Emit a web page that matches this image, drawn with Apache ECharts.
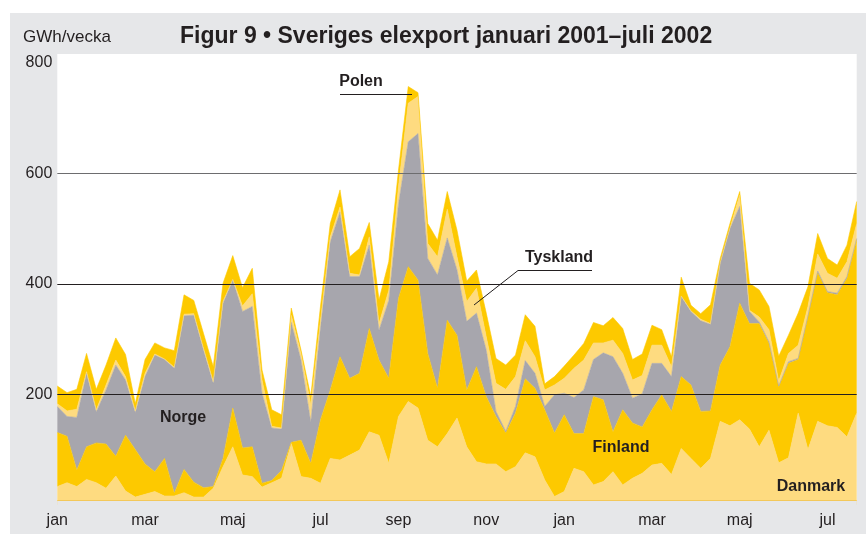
<!DOCTYPE html>
<html>
<head>
<meta charset="utf-8">
<script src="https://cdn.jsdelivr.net/npm/echarts@6/dist/echarts.min.js"></script>
<style>
  html, body { margin: 0; padding: 0; background: #fff; }
  #chart { width: 866px; height: 534px; }
</style>
</head>
<body>
<div id="chart"></div>
<script>
// veckor jan 2001 - v31 2002
const years = [2001, 2002]
const weeksPerYear = [52, 31]
const weeks = []
years.forEach((y, k) => {
  for (let w = 1; w <= weeksPerYear[k]; w++) weeks.push(y + ' v' + w)
})

const monthTickIndex = [0, 9, 18, 27, 35, 44, 52, 61, 70, 79]
const monthTickText = ['jan', 'mar', 'maj', 'jul', 'sep', 'nov', 'jan', 'mar', 'maj', 'jul']

// GWh/vecka
const danmark = [33, 40, 33, 46, 40, 30, 52, 25, 14, 19, 24, 16, 16, 22, 14, 14, 30, 69, 105, 54,
  51, 32, 40, 48, 111, 51, 48, 39, 84, 81, 90, 99, 132, 126, 75, 160, 187, 175, 117, 105,
  129, 157, 105, 78, 74, 74, 60, 69, 94, 87, 45, 15, 24, 66, 60, 36, 42, 60, 36, 48,
  57, 72, 75, 55, 102, 84, 66, 84, 151, 143, 154, 137, 105, 135, 76, 85, 166, 100, 151, 143,
  140, 123, 166]
const finland = [98, 84, 30, 59, 72, 80, 36, 101, 86, 55, 36, 68, 5, 42, 27, 17, 3, 15, 70, 49,
  54, 7, 4, 14, 2, 66, 27, 115, 124, 187, 139, 139, 187, 136, 154, 214, 244, 232, 157, 106,
  205, 150, 103, 172, 122, 86, 70, 97, 134, 124, 127, 115, 139, 63, 69, 160, 148, 72, 136, 100,
  84, 100, 124, 114, 130, 133, 103, 86, 102, 143, 211, 191, 223, 157, 137, 171, 97, 240, 269, 241,
  240, 287, 314]
const norge = [47, 36, 95, 133, 56, 98, 165, 100, 67, 158, 211, 179, 226, 278, 302, 249, 187, 281, 232, 247,
  254, 163, 95, 75, 217, 145, 75, 168, 268, 262, 184, 175, 151, 54, 141, 171, 226, 265, 172, 205,
  149, 118, 124, 97, 84, 9, 3, 12, 33, 27, 6, 69, 39, 65, 79, 67, 85, 136, 66, 45,
  60, 84, 57, 63, 145, 133, 164, 157, 184, 214, 175, 22, 3, 3, 2, 3, 2, 2, 3, 2,
  3, 3, 2]
const tyskland = [5, 10, 15, 3, 4, 9, 9, 6, 3, 6, 2, 1, 2, 3, 3, 3, 3, 3, 1, 10,
  23, 24, 3, 2, 13, 12, 31, 12, 9, 9, 6, 3, 15, 12, 18, 31, 70, 67, 27, 33,
  52, 24, 36, 45, 24, 51, 76, 54, 36, 30, 30, 18, 27, 53, 54, 30, 18, 30, 36, 33,
  33, 33, 33, 18, 1, 1, 3, 1, 1, 1, 21, 2, 9, 22, 9, 15, 24, 17, 31, 33,
  27, 27, 27]
const polen = [32, 33, 36, 33, 37, 36, 40, 40, 13, 25, 20, 20, 30, 35, 24, 27, 27, 33, 43, 33,
  46, 18, 30, 24, 13, 6, 15, 26, 24, 31, 30, 48, 26, 43, 52, 30, 30, 7, 36, 30,
  32, 48, 37, 33, 43, 45, 44, 39, 47, 55, 11, 15, 22, 24, 30, 37, 31, 41, 45, 37,
  39, 36, 28, 18, 34, 10, 10, 34, 8, 8, 6, 49, 49, 42, 45, 33, 58, 36, 37, 27,
  24, 30, 40]

const gridLines = [200, 400, 600]

const LIGHT = '#fedb80'
const YELLOW = '#fdc900'
const GREY = '#a7a6ad'
const BG = '#e6e7e9'
const INK = '#231f20'
const FONT = 'Liberation Sans'

function layer(name, data, color, extra) {
  return Object.assign({
    name: name,
    type: 'line',
    stack: 'export',
    data: data,
    symbol: 'none',
    silent: true,
    lineStyle: { width: 0.6, color: color },
    areaStyle: { color: color, opacity: 1 }
  }, extra || {})
}

const chart = echarts.init(document.getElementById('chart'))
chart.setOption({
  backgroundColor: BG,
  animation: false,
  grid: { left: 57.3, right: 9.3, top: 62.8, bottom: 29.2 },
  xAxis: {
    type: 'category',
    data: weeks,
    boundaryGap: false,
    axisLine: { show: false },
    axisTick: { show: false },
    splitLine: { show: false },
    axisLabel: {
      interval: (i) => monthTickIndex.includes(i),
      formatter: (v, i) => monthTickText[monthTickIndex.indexOf(i)],
      color: INK,
      fontFamily: FONT,
      fontSize: 16,
      margin: 8
    }
  },
  yAxis: {
    type: 'value',
    min: 0,
    max: 800,
    interval: 200,
    axisLine: { show: false },
    axisTick: { show: false },
    splitLine: { show: false },
    axisLabel: {
      showMinLabel: false,
      color: INK,
      fontFamily: FONT,
      fontSize: 16,
      margin: 5
    }
  },
  graphic: [
    // vita kanter och plotyta
    { type: 'rect', z: -1, shape: { x: 0, y: 0, width: 866, height: 13 }, style: { fill: '#fff' } },
    { type: 'rect', z: -1, shape: { x: 0, y: 0, width: 10, height: 534 }, style: { fill: '#fff' } },
    { type: 'rect', z: -1, shape: { x: 57.3, y: 54, width: 799.4, height: 447 }, style: { fill: '#fff' } },
    { type: 'rect', z: 10, shape: { x: 57.3, y: 501, width: 799.4, height: 4 }, style: { fill: BG } },
    { type: 'line', z: 10, shape: { x1: 57.3, y1: 500.5, x2: 856.7, y2: 500.5 }, style: { stroke: '#f3c85a', lineWidth: 1 } },
    { type: 'text', z: 20, style: { text: 'GWh/vecka', x: 23, y: 37, font: '17px ' + FONT, fill: INK, align: 'left', verticalAlign: 'middle' } },
    { type: 'text', z: 20, style: { text: 'Figur 9 • Sveriges elexport januari 2001–juli 2002', x: 180, y: 37, font: 'bold 23px ' + FONT, fill: INK, align: 'left', verticalAlign: 'middle' } },
    { type: 'text', z: 20, style: { text: 'Norge', x: 183, y: 418, font: 'bold 16px ' + FONT, fill: INK, align: 'center', verticalAlign: 'middle' } },
    { type: 'text', z: 20, style: { text: 'Finland', x: 621, y: 448, font: 'bold 16px ' + FONT, fill: INK, align: 'center', verticalAlign: 'middle' } },
    { type: 'text', z: 20, style: { text: 'Danmark', x: 811, y: 487, font: 'bold 16px ' + FONT, fill: INK, align: 'center', verticalAlign: 'middle' } },
    { type: 'text', z: 20, style: { text: 'Polen', x: 361, y: 82, font: 'bold 16px ' + FONT, fill: INK, align: 'center', verticalAlign: 'middle' } },
    { type: 'text', z: 20, style: { text: 'Tyskland', x: 559, y: 258, font: 'bold 16px ' + FONT, fill: INK, align: 'center', verticalAlign: 'middle' } },
    { type: 'polyline', z: 20, shape: { points: [[340, 94.5], [412, 94.5]] }, style: { stroke: INK, lineWidth: 1 } },
    { type: 'polyline', z: 20, shape: { points: [[474, 305], [518, 270.5], [592, 270.5]] }, style: { stroke: INK, lineWidth: 1, fill: null } }
  ],
  series: [
    layer('Danmark', danmark, LIGHT),
    layer('Finland', finland, YELLOW),
    layer('Norge', norge, GREY),
    layer('Tyskland', tyskland, LIGHT),
    layer('Polen', polen, YELLOW, {
      markLine: {
        silent: true,
        symbol: 'none',
        label: { show: false },
        lineStyle: { color: INK, width: 1, type: 'solid' },
        data: gridLines.map(v => ({ yAxis: v, lineStyle: v === 600 ? { color: '#6d6d6f' } : {} }))
      }
    })
  ]
})
</script>
</body>
</html>
